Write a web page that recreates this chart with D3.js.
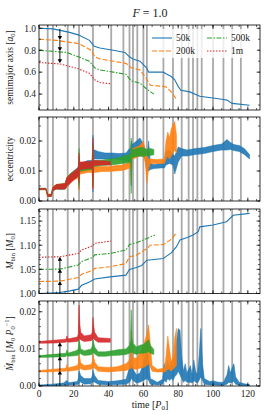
<!DOCTYPE html>
<html>
<head>
<meta charset="utf-8">
<script src="https://cdn.jsdelivr.net/npm/d3@7"></script>
<style>
  body { margin: 0; background: #fff; }
  svg text { font-family: "Liberation Serif", "DejaVu Serif", serif; fill: #222; }
</style>
</head>
<body>
<div id="chart"></div>
<script>
// times of the grey vertical markers
var eventTimes = [5, 8, 16.5, 23, 31, 41.5, 48.5, 52, 54, 56.5, 60, 62, 71.5, 77, 82, 86, 88.5, 91, 93.5, 100, 106, 111, 116];

var seriesNames = ["50k", "200k", "500k", "1m"];
var colors = ["#1f77b4", "#ff7f0e", "#2ca02c", "#d62728"];
var dashes = [null, "5,2", "5,1.5,1.5,1.5", "1.5,1.5"];

// semimajor axis
var aT50 = [0, 8, 17, 22.6, 29, 31.8, 35, 42.7, 49.4, 52, 54, 58, 61.8, 63, 71.4, 73, 76, 78, 80, 81.5, 86.7, 92.4, 100, 106, 108, 111, 121];
var a50 = [1.0, 0.995, 0.965, 0.94, 0.89, 0.835, 0.82, 0.80, 0.78, 0.74, 0.72, 0.70, 0.64, 0.60, 0.60, 0.585, 0.56, 0.53, 0.47, 0.435, 0.42, 0.38, 0.365, 0.35, 0.345, 0.315, 0.298];
var aT200 = [0, 10, 23, 30, 32, 35, 42.7, 50, 53, 58, 62, 64, 71.4, 73, 76, 79];
var a200 = [0.90, 0.89, 0.86, 0.80, 0.74, 0.72, 0.70, 0.68, 0.64, 0.62, 0.535, 0.48, 0.47, 0.465, 0.42, 0.355];
var aT500 = [0, 16, 22.6, 29, 32, 35, 42.7, 50, 53, 58, 62, 66];
var a500 = [0.80, 0.78, 0.74, 0.70, 0.64, 0.62, 0.60, 0.58, 0.52, 0.50, 0.445, 0.40];
var aT1m = [0, 12, 21.6, 29, 32, 35, 41];
var a1m = [0.688, 0.675, 0.636, 0.59, 0.53, 0.505, 0.495];

// eccentricity (band: low / high of the noisy signal)
var eT50 = [0, 4, 5, 7, 8, 10, 13, 15, 16, 18, 20, 22, 22.6, 23, 23.4, 24, 26, 28, 30, 30.6, 31, 31.4, 32, 34, 38, 42, 46, 50, 52, 52.6, 53, 53.4, 54, 56, 58, 60, 61, 62, 63, 64, 66, 70, 72, 73, 75, 77, 78, 80, 82, 85, 90, 95, 100, 105, 108, 110, 112, 115, 118, 121];
var eLo50 = [0.0038, 0.0038, 0.0015, 0.0015, 0.0035, 0.0040, 0.0038, 0.0040, 0.0045, 0.0060, 0.0075, 0.0080, 0.0085, 0.0040, 0.0095, 0.0095, 0.0100, 0.0105, 0.0105, 0.0108, 0.0030, 0.0140, 0.0140, 0.0140, 0.0140, 0.0140, 0.0138, 0.0135, 0.0130, 0.0132, 0.0050, 0.0145, 0.0145, 0.0150, 0.0150, 0.0150, 0.0140, 0.0100, 0.0100, 0.0105, 0.0108, 0.0110, 0.0110, 0.0120, 0.0125, 0.0120, 0.0090, 0.0130, 0.0150, 0.0150, 0.0155, 0.0158, 0.0165, 0.0170, 0.0170, 0.0172, 0.0168, 0.0165, 0.0155, 0.0140];
var eHi50 = [0.0042, 0.0042, 0.0022, 0.0022, 0.0045, 0.0052, 0.0055, 0.0055, 0.0075, 0.0090, 0.0100, 0.0110, 0.0115, 0.0150, 0.0125, 0.0125, 0.0130, 0.0135, 0.0135, 0.0138, 0.0220, 0.0170, 0.0170, 0.0165, 0.0160, 0.0160, 0.0158, 0.0160, 0.0175, 0.0175, 0.0200, 0.0190, 0.0190, 0.0200, 0.0210, 0.0190, 0.0170, 0.0140, 0.0200, 0.0125, 0.0122, 0.0125, 0.0130, 0.0165, 0.0170, 0.0155, 0.0150, 0.0180, 0.0175, 0.0170, 0.0175, 0.0178, 0.0185, 0.0190, 0.0205, 0.0195, 0.0188, 0.0185, 0.0175, 0.0155];
var eT200 = [0, 4, 5, 7, 8, 10, 15, 16, 18, 20, 22, 22.6, 23, 23.4, 24, 28, 30, 30.6, 31, 31.4, 32, 36, 40, 44, 48, 50, 52, 52.6, 53, 53.4, 54, 56, 58, 60, 61, 62, 63, 64, 68, 72, 73, 74, 75, 76, 77, 78, 79];
var eLo200 = [0.0038, 0.0038, 0.0015, 0.0015, 0.0035, 0.0040, 0.0040, 0.0045, 0.0060, 0.0070, 0.0075, 0.0080, 0.0035, 0.0090, 0.0090, 0.0095, 0.0095, 0.0098, 0.0040, 0.0095, 0.0095, 0.0098, 0.0098, 0.0100, 0.0102, 0.0105, 0.0110, 0.0112, 0.0060, 0.0140, 0.0140, 0.0145, 0.0150, 0.0150, 0.0130, 0.0060, 0.0110, 0.0125, 0.0125, 0.0125, 0.0140, 0.0150, 0.0140, 0.0150, 0.0160, 0.0170, 0.0160];
var eHi200 = [0.0042, 0.0042, 0.0022, 0.0022, 0.0048, 0.0055, 0.0058, 0.0078, 0.0090, 0.0095, 0.0105, 0.0108, 0.0145, 0.0120, 0.0120, 0.0125, 0.0125, 0.0125, 0.0160, 0.0115, 0.0115, 0.0115, 0.0115, 0.0118, 0.0120, 0.0125, 0.0130, 0.0130, 0.0170, 0.0175, 0.0175, 0.0180, 0.0185, 0.0200, 0.0170, 0.0150, 0.0140, 0.0140, 0.0138, 0.0140, 0.0200, 0.0230, 0.0210, 0.0240, 0.0255, 0.0265, 0.0220];
var eT500 = [0, 4, 5, 7, 8, 10, 15, 16, 18, 20, 22, 22.6, 23, 23.4, 24, 28, 30, 30.6, 31, 31.4, 32, 36, 40, 44, 48, 52, 52.6, 53, 53.4, 54, 56, 58, 60, 62, 64, 66];
var eLo500 = [0.0038, 0.0038, 0.0015, 0.0015, 0.0035, 0.0040, 0.0040, 0.0050, 0.0065, 0.0075, 0.0080, 0.0085, 0.0050, 0.0100, 0.0100, 0.0103, 0.0105, 0.0108, 0.0050, 0.0115, 0.0115, 0.0118, 0.0120, 0.0122, 0.0125, 0.0128, 0.0130, 0.0025, 0.0145, 0.0145, 0.0148, 0.0150, 0.0148, 0.0152, 0.0152, 0.0154];
var eHi500 = [0.0042, 0.0042, 0.0022, 0.0022, 0.0045, 0.0055, 0.0058, 0.0078, 0.0092, 0.0100, 0.0105, 0.0108, 0.0175, 0.0125, 0.0125, 0.0130, 0.0132, 0.0132, 0.0190, 0.0135, 0.0135, 0.0136, 0.0140, 0.0142, 0.0148, 0.0155, 0.0158, 0.0210, 0.0172, 0.0172, 0.0175, 0.0178, 0.0178, 0.0172, 0.0175, 0.0172];
var eT1m = [0, 4, 5, 7, 8, 10, 15, 16, 18, 20, 22, 22.6, 23, 23.4, 24, 28, 30, 30.6, 31, 31.4, 32, 36, 41];
var eLo1m = [0.0038, 0.0038, 0.0015, 0.0015, 0.0035, 0.0040, 0.0040, 0.0050, 0.0060, 0.0070, 0.0080, 0.0085, 0.0060, 0.0105, 0.0105, 0.0108, 0.0108, 0.0110, 0.0040, 0.0118, 0.0118, 0.0120, 0.0120];
var eHi1m = [0.0042, 0.0042, 0.0022, 0.0022, 0.0045, 0.0055, 0.0058, 0.0078, 0.0088, 0.0098, 0.0108, 0.0110, 0.0160, 0.0130, 0.0130, 0.0132, 0.0132, 0.0133, 0.0210, 0.0135, 0.0135, 0.0134, 0.0132];

// binary mass
var mT50 = [0, 12, 17.8, 22.6, 24.5, 29, 32, 40.8, 50, 52, 56, 59, 62, 71.4, 73.3, 76, 79, 81, 84.8, 88.6, 91.5, 92.4, 100, 107.8, 111.6, 121];
var m50 = [1.0, 1.002, 1.0055, 1.009, 1.017, 1.024, 1.030, 1.0345, 1.038, 1.05, 1.054, 1.058, 1.069, 1.0726, 1.0775, 1.084, 1.097, 1.111, 1.1155, 1.121, 1.128, 1.138, 1.1417, 1.1486, 1.162, 1.166];
var mT200 = [0, 12, 22.6, 24.5, 31, 32, 40.8, 50, 52, 56, 62, 64, 71.4, 73, 76, 79];
var m200 = [1.025, 1.0256, 1.033, 1.040, 1.048, 1.052, 1.0553, 1.062, 1.076, 1.0795, 1.093, 1.10, 1.1015, 1.105, 1.112, 1.126];
var mT500 = [0, 12, 22.6, 24.5, 31, 32, 40.8, 50, 52, 56, 62, 66.6];
var m500 = [1.05, 1.0505, 1.059, 1.066, 1.075, 1.080, 1.083, 1.090, 1.1015, 1.105, 1.114, 1.121];
var mT1m = [0, 12, 22.6, 24.5, 31, 32, 41.3];
var m1m = [1.075, 1.0761, 1.083, 1.090, 1.099, 1.104, 1.1085];

// accretion rate (band: low / high)
var dT50 = [0, 5, 10, 14, 16, 17, 22, 22.6, 23, 23.5, 24, 26, 30, 30.6, 31, 31.5, 32, 34, 40, 45, 50, 52, 52.6, 53, 53.5, 54, 56, 58, 60, 62, 63, 64, 68, 71, 72, 73, 74, 75, 76, 77, 78, 79, 80, 81, 82, 83, 84, 85, 87, 88, 89, 90, 91, 92, 93, 94, 95, 98, 100, 103, 106, 108, 109, 110, 111, 112, 113, 115, 118, 121];
var dLo50 = [0.0000, 0.0000, 0.0001, 0.0002, 0.0002, 0.0003, 0.0004, 0.0005, 0.0006, 0.0012, 0.0010, 0.0005, 0.0006, 0.0008, 0.0010, 0.0012, 0.0010, 0.0005, 0.0003, 0.0004, 0.0005, 0.0010, 0.0015, 0.0020, 0.0018, 0.0015, 0.0008, 0.0010, 0.0015, 0.0020, 0.0015, 0.0005, 0.0003, 0.0005, 0.0015, 0.0010, 0.0020, 0.0015, 0.0020, 0.0015, 0.0025, 0.0030, 0.0040, 0.0030, 0.0020, 0.0010, 0.0015, 0.0010, 0.0010, 0.0008, 0.0015, 0.0010, 0.0008, 0.0015, 0.0025, 0.0015, 0.0005, 0.0003, 0.0003, 0.0002, 0.0002, 0.0005, 0.0010, 0.0008, 0.0010, 0.0012, 0.0005, 0.0002, 0.0001, 0.0000];
var dHi50 = [0.0003, 0.0004, 0.0006, 0.0008, 0.0015, 0.0009, 0.0012, 0.0020, 0.0040, 0.0035, 0.0028, 0.0020, 0.0020, 0.0028, 0.0042, 0.0035, 0.0028, 0.0015, 0.0012, 0.0014, 0.0018, 0.0050, 0.0070, 0.0118, 0.0060, 0.0045, 0.0030, 0.0035, 0.0060, 0.0110, 0.0075, 0.0020, 0.0010, 0.0018, 0.0060, 0.0045, 0.0070, 0.0050, 0.0065, 0.0050, 0.0080, 0.0120, 0.0155, 0.0150, 0.0080, 0.0040, 0.0060, 0.0035, 0.0055, 0.0030, 0.0070, 0.0040, 0.0030, 0.0080, 0.0155, 0.0060, 0.0020, 0.0012, 0.0014, 0.0010, 0.0010, 0.0030, 0.0055, 0.0035, 0.0050, 0.0060, 0.0025, 0.0010, 0.0006, 0.0004];
var dT200 = [0, 5, 10, 15, 15.6, 16, 16.6, 17, 22, 22.6, 23, 23.5, 24, 26, 30, 30.6, 31, 31.5, 32, 34, 40, 45, 50, 52, 52.6, 53, 53.5, 54, 56, 58, 60, 62, 63, 64, 65, 68, 72, 73, 74, 75, 76, 77, 78, 79];
var dLo200 = [0.0038, 0.0038, 0.0039, 0.0040, 0.0040, 0.0042, 0.0041, 0.0040, 0.0043, 0.0044, 0.0045, 0.0050, 0.0046, 0.0043, 0.0045, 0.0047, 0.0050, 0.0050, 0.0048, 0.0040, 0.0038, 0.0040, 0.0042, 0.0045, 0.0048, 0.0050, 0.0050, 0.0045, 0.0045, 0.0048, 0.0050, 0.0055, 0.0060, 0.0050, 0.0040, 0.0038, 0.0038, 0.0040, 0.0045, 0.0045, 0.0040, 0.0045, 0.0050, 0.0055];
var dHi200 = [0.0042, 0.0044, 0.0046, 0.0048, 0.0049, 0.0058, 0.0050, 0.0049, 0.0055, 0.0062, 0.0085, 0.0075, 0.0062, 0.0055, 0.0058, 0.0065, 0.0085, 0.0075, 0.0065, 0.0052, 0.0050, 0.0052, 0.0060, 0.0070, 0.0085, 0.0150, 0.0090, 0.0075, 0.0075, 0.0090, 0.0110, 0.0140, 0.0165, 0.0110, 0.0055, 0.0045, 0.0048, 0.0080, 0.0135, 0.0100, 0.0065, 0.0080, 0.0130, 0.0155];
var dT500 = [0, 10, 15, 15.6, 16, 16.6, 17, 22, 22.6, 23, 23.5, 24, 26, 30, 30.6, 31, 31.5, 32, 34, 38, 42, 46, 50, 52, 52.6, 53, 53.5, 54, 56, 58, 60, 62, 63, 64, 66];
var dLo500 = [0.0077, 0.0078, 0.0079, 0.0080, 0.0082, 0.0081, 0.0080, 0.0082, 0.0084, 0.0085, 0.0090, 0.0086, 0.0082, 0.0084, 0.0086, 0.0090, 0.0090, 0.0086, 0.0080, 0.0080, 0.0082, 0.0083, 0.0085, 0.0088, 0.0090, 0.0090, 0.0092, 0.0088, 0.0085, 0.0088, 0.0088, 0.0090, 0.0092, 0.0088, 0.0085];
var dHi500 = [0.0082, 0.0086, 0.0088, 0.0089, 0.0097, 0.0090, 0.0089, 0.0096, 0.0102, 0.0125, 0.0115, 0.0100, 0.0095, 0.0100, 0.0108, 0.0125, 0.0115, 0.0105, 0.0092, 0.0092, 0.0095, 0.0098, 0.0100, 0.0110, 0.0125, 0.0205, 0.0130, 0.0115, 0.0105, 0.0110, 0.0112, 0.0120, 0.0125, 0.0110, 0.0098];
var dT1m = [0, 10, 15, 15.6, 16, 16.6, 17, 22, 22.6, 23, 23.5, 24, 26, 30, 30.6, 31, 31.5, 32, 34, 41];
var dLo1m = [0.0115, 0.0116, 0.0118, 0.0118, 0.0120, 0.0119, 0.0118, 0.0120, 0.0122, 0.0125, 0.0128, 0.0124, 0.0120, 0.0122, 0.0124, 0.0128, 0.0128, 0.0124, 0.0118, 0.0118];
var dHi1m = [0.0120, 0.0124, 0.0126, 0.0127, 0.0135, 0.0128, 0.0127, 0.0132, 0.0140, 0.0218, 0.0165, 0.0145, 0.0135, 0.0138, 0.0145, 0.0185, 0.0160, 0.0145, 0.0130, 0.0128];

// offset arrows at t = 12
var arrowT = 12;
var arrowA = [[0.995, 0.893], [0.893, 0.79], [0.79, 0.682]];
var arrowM = [[1.0, 1.026], [1.026, 1.051], [1.051, 1.076]];
var arrowD = [[0.0, 0.0042], [0.0042, 0.008], [0.008, 0.0118]];

function zip(t, v) { return t.map(function (d, i) { return { t: d, v: v[i] }; }); }
function zip3(t, lo, hi) { return t.map(function (d, i) { return { t: d, lo: lo[i], hi: hi[i] }; }); }

var aSeries = [zip(aT50, a50), zip(aT200, a200), zip(aT500, a500), zip(aT1m, a1m)];
var mSeries = [zip(mT50, m50), zip(mT200, m200), zip(mT500, m500), zip(mT1m, m1m)];
var eSeries = [zip3(eT50, eLo50, eHi50), zip3(eT200, eLo200, eHi200), zip3(eT500, eLo500, eHi500), zip3(eT1m, eLo1m, eHi1m)];
var dSeries = [zip3(dT50, dLo50, dHi50), zip3(dT200, dLo200, dHi200), zip3(dT500, dLo500, dHi500), zip3(dT1m, dLo1m, dHi1m)];

var width = 277, height = 415;
var left = 39, right = 260;

var svg = d3.select("#chart").append("svg")
  .attr("width", width).attr("height", height);

var x = d3.scaleLinear().domain([0, 127]).range([left, right]);

var panels = [
  { top: 25, bottom: 110, domain: [0.255, 1.03], major: [0.4, 0.6, 0.8, 1.0], fmt: d3.format(".1f"), minor: 0.1 },
  { top: 117, bottom: 201, domain: [0, 0.028], major: [0, 0.01, 0.02], fmt: d3.format(".2f"), minor: 0.005 },
  { top: 209, bottom: 293.5, domain: [1.0, 1.175], major: [1.0, 1.05, 1.10, 1.15], fmt: d3.format(".2f"), minor: 0.01 },
  { top: 301, bottom: 386, domain: [0, 0.0229], major: [0, 0.01, 0.02], fmt: d3.format(".2f"), minor: 0.002 }
];

panels.forEach(function (p, i) {
  p.y = d3.scaleLinear().domain(p.domain).range([p.bottom, p.top]);
  var g = svg.append("g");
  p.g = g;
  var clipId = "clip" + i;
  svg.append("clipPath").attr("id", clipId).append("rect")
    .attr("x", left).attr("y", p.top).attr("width", right - left).attr("height", p.bottom - p.top);
  p.plot = g.append("g").attr("clip-path", "url(#" + clipId + ")");

  p.plot.selectAll("line.ev").data(eventTimes).enter().append("line")
    .attr("x1", function (d) { return x(d); }).attr("x2", function (d) { return x(d); })
    .attr("y1", p.top).attr("y2", p.bottom)
    .attr("stroke", "#a9a9a9").attr("stroke-width", 1.8);
});

// line panels
function drawLines(p, series) {
  var line = d3.line().x(function (d) { return x(d.t); }).y(function (d) { return p.y(d.v); });
  series.forEach(function (s, k) {
    p.plot.append("path").datum(s).attr("d", line)
      .attr("fill", "none").attr("stroke", colors[k]).attr("stroke-width", 1.1)
      .attr("stroke-dasharray", dashes[k]);
  });
}
function drawBands(p, series) {
  var area = d3.area().x(function (d) { return x(d.t); })
    .y0(function (d) { return p.y(d.lo); }).y1(function (d) { return p.y(d.hi); });
  series.forEach(function (s, k) {
    p.plot.append("path").datum(s).attr("d", area)
      .attr("fill", colors[k]).attr("fill-opacity", 0.9)
      .attr("stroke", colors[k]).attr("stroke-width", 0.5);
  });
}
drawLines(panels[0], aSeries);
drawBands(panels[1], eSeries);
drawLines(panels[2], mSeries);
drawBands(panels[3], dSeries);

// arrows
function drawArrows(p, arr) {
  arr.forEach(function (a) {
    var y0 = p.y(a[0]), y1 = p.y(a[1]);
    var dir = y1 > y0 ? 1 : -1;
    p.plot.append("line").attr("x1", x(arrowT)).attr("x2", x(arrowT))
      .attr("y1", y0).attr("y2", y1 - dir * 2).attr("stroke", "#000").attr("stroke-width", 0.9);
    var xc = x(arrowT);
    p.plot.append("path")
      .attr("d", "M" + (xc - 2.2) + "," + (y1 - dir * 4) + "L" + (xc + 2.2) + "," + (y1 - dir * 4) + "L" + xc + "," + y1 + "Z")
      .attr("fill", "#000");
  });
}
drawArrows(panels[0], arrowA);
drawArrows(panels[2], arrowM);
drawArrows(panels[3], arrowD);

// axes frames and ticks
var xMajor = d3.range(0, 121, 20);
var xMinor = d3.range(0, 128, 5);
panels.forEach(function (p, i) {
  var g = p.g;
  var yMinor = [];
  var start = Math.ceil(p.domain[0] / p.minor - 1e-6);
  for (var k = start; k * p.minor <= p.domain[1] + 1e-9; k++) yMinor.push(k * p.minor);

  xMinor.forEach(function (d) {
    g.append("line").attr("x1", x(d)).attr("x2", x(d)).attr("y1", p.bottom).attr("y2", p.bottom - 2).attr("stroke", "#000").attr("stroke-width", 0.6);
    g.append("line").attr("x1", x(d)).attr("x2", x(d)).attr("y1", p.top).attr("y2", p.top + 2).attr("stroke", "#000").attr("stroke-width", 0.6);
  });
  xMajor.forEach(function (d) {
    g.append("line").attr("x1", x(d)).attr("x2", x(d)).attr("y1", p.bottom).attr("y2", p.bottom - 3.5).attr("stroke", "#000").attr("stroke-width", 0.7);
    g.append("line").attr("x1", x(d)).attr("x2", x(d)).attr("y1", p.top).attr("y2", p.top + 3.5).attr("stroke", "#000").attr("stroke-width", 0.7);
  });
  yMinor.forEach(function (d) {
    g.append("line").attr("x1", left).attr("x2", left + 2).attr("y1", p.y(d)).attr("y2", p.y(d)).attr("stroke", "#000").attr("stroke-width", 0.6);
    g.append("line").attr("x1", right).attr("x2", right - 2).attr("y1", p.y(d)).attr("y2", p.y(d)).attr("stroke", "#000").attr("stroke-width", 0.6);
  });
  p.major.forEach(function (d) {
    g.append("line").attr("x1", left).attr("x2", left + 3.5).attr("y1", p.y(d)).attr("y2", p.y(d)).attr("stroke", "#000").attr("stroke-width", 0.7);
    g.append("line").attr("x1", right).attr("x2", right - 3.5).attr("y1", p.y(d)).attr("y2", p.y(d)).attr("stroke", "#000").attr("stroke-width", 0.7);
    g.append("text").attr("x", left - 3).attr("y", p.y(d)).attr("dy", "0.35em")
      .attr("text-anchor", "end").attr("font-size", 9.5).text(p.fmt(d));
  });
  g.append("rect").attr("x", left).attr("y", p.top).attr("width", right - left).attr("height", p.bottom - p.top)
    .attr("fill", "none").attr("stroke", "#000").attr("stroke-width", 0.8);
});

var last = panels[3];
xMajor.forEach(function (d) {
  svg.append("text").attr("x", x(d)).attr("y", last.bottom + 11).attr("text-anchor", "middle")
    .attr("font-size", 9.5).text(d);
});

// x label
var xl = svg.append("text").attr("x", 150).attr("y", last.bottom + 22).attr("text-anchor", "middle").attr("font-size", 10);
xl.append("tspan").text("time [");
xl.append("tspan").attr("font-style", "italic").text("P");
xl.append("tspan").attr("font-size", 7).attr("dy", 2).text("0");
xl.append("tspan").attr("dy", -2).text("]");

// title
var tt = svg.append("text").attr("x", 150).attr("y", 17).attr("text-anchor", "middle").attr("font-size", 12);
tt.append("tspan").attr("font-style", "italic").text("F");
tt.append("tspan").text(" = 1.0");

// y labels
function yLabel(p, parts) {
  var cy = (p.top + p.bottom) / 2;
  var t = svg.append("text").attr("transform", "translate(13," + cy + ") rotate(-90)")
    .attr("text-anchor", "middle").attr("font-size", 9.5);
  parts.forEach(function (q) {
    var s = t.append("tspan").text(q[0]);
    if (q[1] === "i") s.attr("font-style", "italic");
    if (q[1] === "sub") s.attr("font-size", 6.5).attr("dy", 2);
    if (q[1] === "up") s.attr("dy", -2);
    if (q[1] === "sup") s.attr("font-size", 6.5).attr("dy", -6);
    if (q[1] === "down") s.attr("dy", 4);
  });
}
yLabel(panels[0], [["semimajor axis ["], ["a", "i"], ["0", "sub"], ["]", "up"]]);
yLabel(panels[1], [["eccentricity"]]);
yLabel(panels[2], [["M", "i"], ["bin", "sub"], [" [", "up"], ["M", "i"], ["0", "sub"], ["]", "up"]]);
yLabel(panels[3], [["\u1E40", "i"], ["bin", "sub"], [" [", "up"], ["M", "i"], ["0", "sub"], [" ", "up"], ["P", "i"], ["0", "sub"], ["\u22121", "sup"], ["]", "down"]]);

// legend
var lg = svg.append("g");
lg.append("rect").attr("x", 148).attr("y", 29).attr("width", 109).attr("height", 29)
  .attr("fill", "#fff").attr("fill-opacity", 0.8);
var legPos = [[152, 38], [152, 51], [207, 38], [207, 51]];
seriesNames.forEach(function (n, k) {
  var pos = legPos[k];
  lg.append("line").attr("x1", pos[0]).attr("x2", pos[0] + 20).attr("y1", pos[1]).attr("y2", pos[1])
    .attr("stroke", colors[k]).attr("stroke-width", 1.1).attr("stroke-dasharray", dashes[k]);
  lg.append("text").attr("x", pos[0] + 24).attr("y", pos[1]).attr("dy", "0.35em").attr("font-size", 9.5).text(n);
});
</script>
</body>
</html>
